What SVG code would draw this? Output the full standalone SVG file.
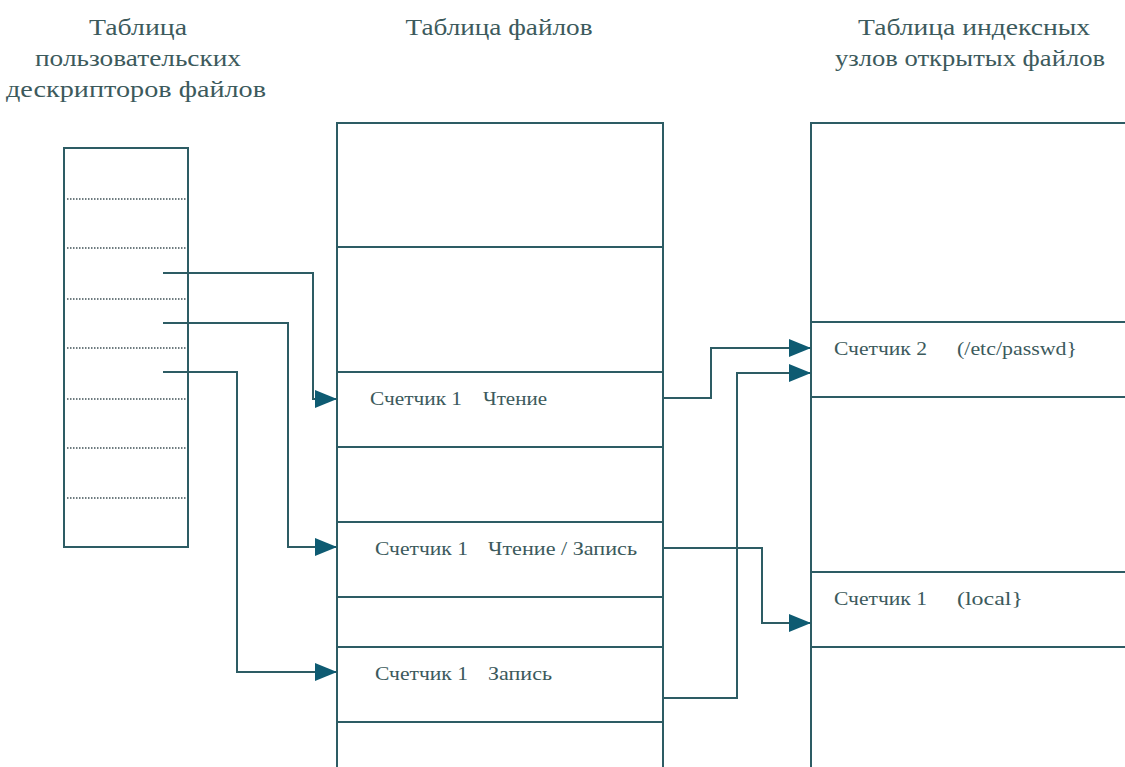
<svg xmlns="http://www.w3.org/2000/svg" width="1125" height="767" viewBox="0 0 1125 767">
<style>
.box{fill:#ffffff;stroke:#2d5c64;stroke-width:2}
.row{stroke:#2d5c64;stroke-width:2;fill:none}
.dot{stroke:#3f5055;stroke-width:1.5;stroke-dasharray:1.5 1.5;fill:none}
.conn{stroke:#2d5c64;stroke-width:2;fill:none}
.title{font-size:24px;fill:#3c5a5c;text-anchor:middle}
.lbl{font-size:18px;fill:#3c5a5c}
</style>
<defs>
<marker id="arr" markerUnits="userSpaceOnUse" markerWidth="24" markerHeight="20" refX="22" refY="9" orient="auto">
<path d="M0,0 L22,9 L0,18 Z" fill="#0e5b72"/>
</marker>
</defs>
<rect width="1125" height="767" fill="#ffffff"/>

<g id="titles" font-family="Liberation Serif, DejaVu Serif, serif">
<text class="title" x="138" y="35" textLength="98" lengthAdjust="spacingAndGlyphs">Таблица</text>
<text class="title" x="138" y="66" textLength="206" lengthAdjust="spacingAndGlyphs">пользовательских</text>
<text class="title" x="136" y="97" textLength="260" lengthAdjust="spacingAndGlyphs">дескрипторов файлов</text>
<text class="title" x="499" y="35" textLength="187" lengthAdjust="spacingAndGlyphs">Таблица файлов</text>
<text class="title" x="974" y="35" textLength="232" lengthAdjust="spacingAndGlyphs">Таблица индексных</text>
<text class="title" x="970" y="66" textLength="270" lengthAdjust="spacingAndGlyphs">узлов открытых файлов</text>
</g>

<g id="user-descriptors">
<rect class="box" x="64" y="148" width="124" height="399"/>
<path class="dot" d="M67,199 H186 M67,248 H186 M67,299 H186 M67,348 H186 M67,399 H186 M67,448 H186 M67,498 H186"/>
</g>

<g id="file-table" font-family="Liberation Serif, DejaVu Serif, serif">
<rect class="box" x="337" y="123" width="326" height="660"/>
<path class="row" d="M337,247 H663 M337,372 H663 M337,447 H663 M337,522 H663 M337,597 H663 M337,647 H663 M337,722 H663"/>
<text class="lbl" x="370" y="405" textLength="92" lengthAdjust="spacingAndGlyphs">Счетчик 1</text>
<text class="lbl" x="483" y="405" textLength="64" lengthAdjust="spacingAndGlyphs">Чтение</text>
<text class="lbl" x="375" y="555" textLength="93" lengthAdjust="spacingAndGlyphs">Счетчик 1</text>
<text class="lbl" x="488" y="555" textLength="149" lengthAdjust="spacingAndGlyphs">Чтение / Запись</text>
<text class="lbl" x="375" y="680" textLength="93" lengthAdjust="spacingAndGlyphs">Счетчик 1</text>
<text class="lbl" x="488" y="680" textLength="64" lengthAdjust="spacingAndGlyphs">Запись</text>
</g>

<g id="inode-table" font-family="Liberation Serif, DejaVu Serif, serif">
<rect class="box" x="811" y="123" width="330" height="660"/>
<path class="row" d="M811,322 H1125 M811,397 H1125 M811,572 H1125 M811,647 H1125"/>
<text class="lbl" x="834" y="355" textLength="93" lengthAdjust="spacingAndGlyphs">Счетчик 2</text>
<text class="lbl" x="957" y="355" textLength="120" lengthAdjust="spacingAndGlyphs">(/etc/passwd}</text>
<text class="lbl" x="834" y="605" textLength="93" lengthAdjust="spacingAndGlyphs">Счетчик 1</text>
<text class="lbl" x="957" y="605" textLength="66" lengthAdjust="spacingAndGlyphs">(local}</text>
</g>

<g id="connectors">
<path class="conn" d="M163,273 H313 V399 H337" marker-end="url(#arr)"/>
<path class="conn" d="M163,323 H288 V547 H337" marker-end="url(#arr)"/>
<path class="conn" d="M163,372 H237 V672 H337" marker-end="url(#arr)"/>
<path class="conn" d="M663,398 H711 V348 H811" marker-end="url(#arr)"/>
<path class="conn" d="M663,698 H737 V373 H811" marker-end="url(#arr)"/>
<path class="conn" d="M663,548 H762 V623 H811" marker-end="url(#arr)"/>
</g>
</svg>
